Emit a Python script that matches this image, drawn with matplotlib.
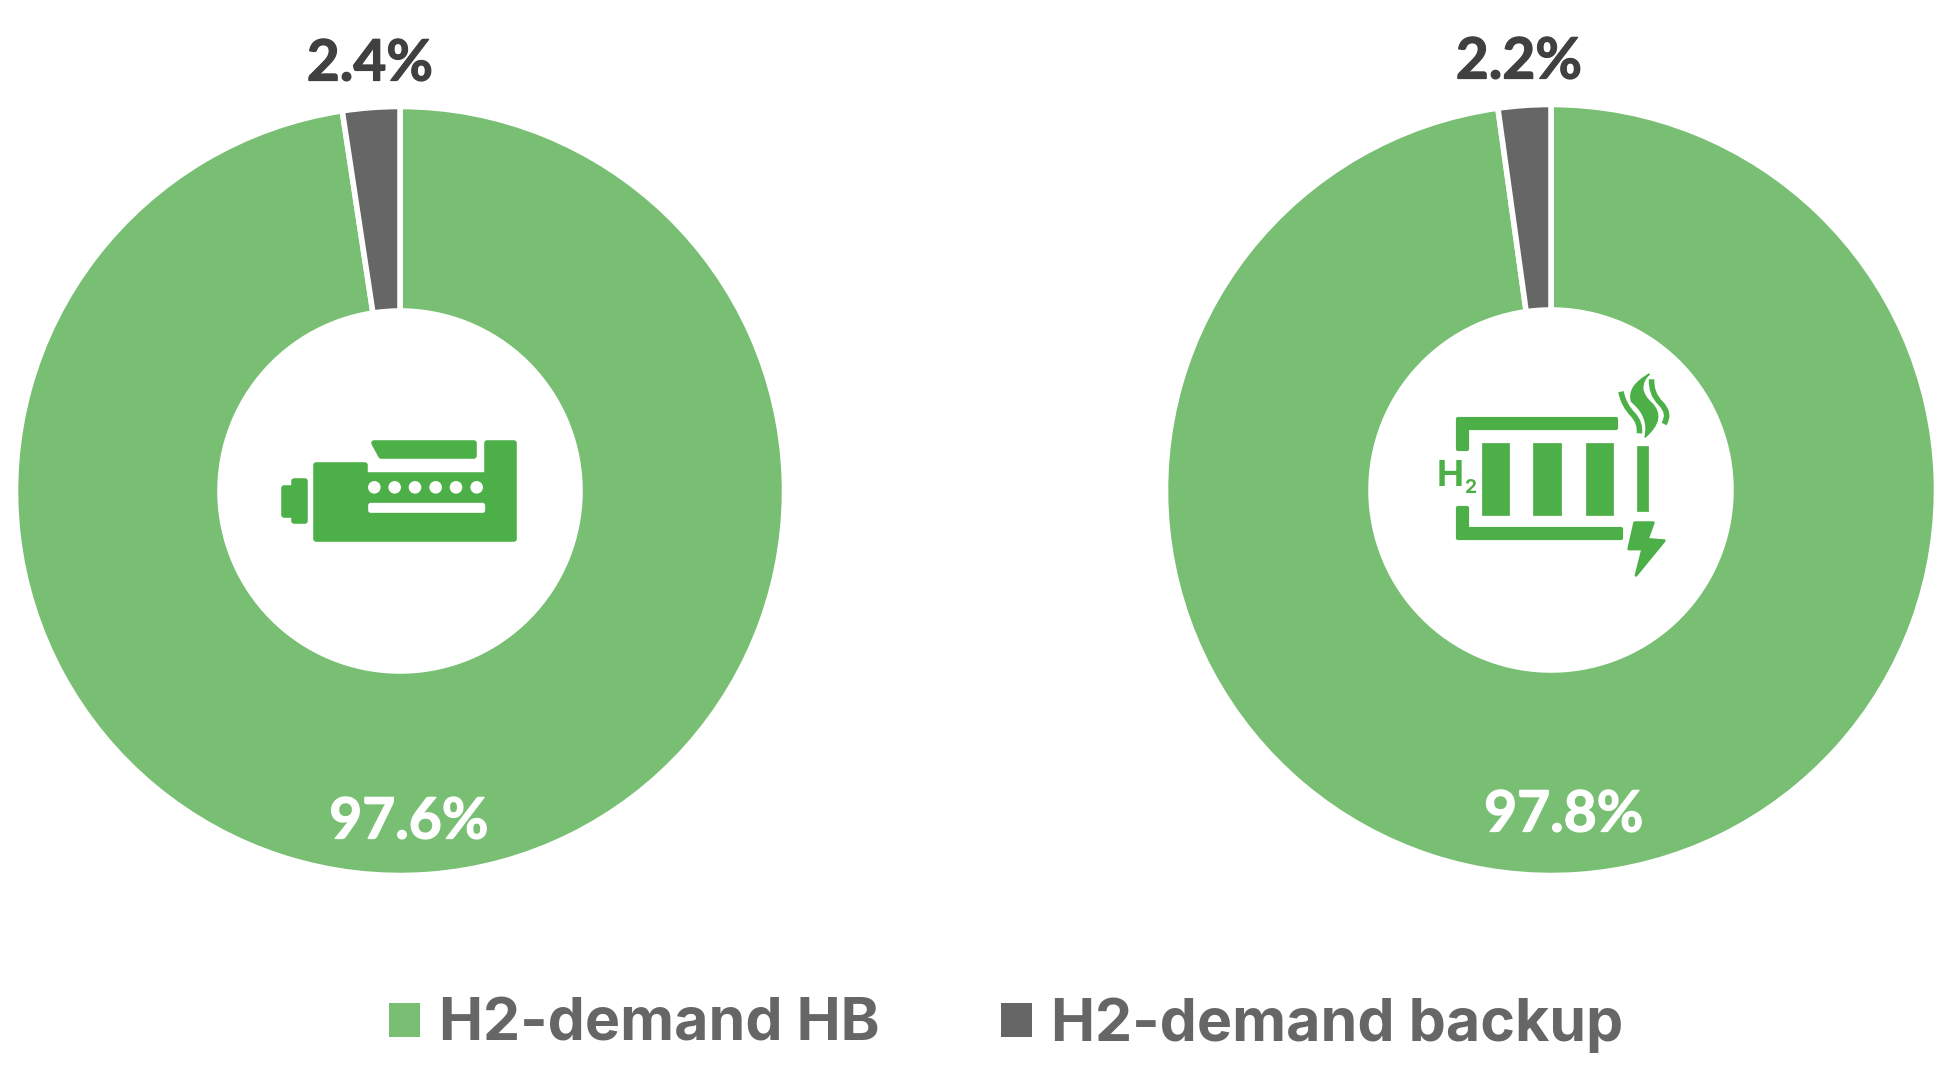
import matplotlib
matplotlib.use('Agg')
import matplotlib.pyplot as plt
import matplotlib.patheffects as pe
from matplotlib.patches import Polygon, Circle, FancyBboxPatch, Patch, PathPatch
from matplotlib.path import Path

# data
labels = ['H2-demand HB', 'H2-demand backup']
shares_engine = [97.6, 2.4]
shares_fuelcell = [97.8, 2.2]

green = '#78BF73'
grey = '#666666'
icon_green = '#4CAF47'
dark = '#404040'

plt.rcParams['font.family'] = ['Inter', 'Open Sans', 'DejaVu Sans']

W, H = 1945, 1069
fig = plt.figure(figsize=(W / 100, H / 100), dpi=100)


def donut(cx, cy, R, r, values):
    ax = fig.add_axes([(cx - R) / W, 1 - (cy + R) / H, 2 * R / W, 2 * R / H])
    ax.pie(values, colors=[green, grey], startangle=90, counterclock=False, radius=1,
           wedgeprops=dict(width=1 - r / R, edgecolor='white', linewidth=4))
    ax.set_xlim(-1, 1)
    ax.set_ylim(-1, 1)


donut(400, 491, 384.5, 180, shares_engine)
donut(1551, 490, 385.5, 180, shares_fuelcell)

# overlay in pixels for the labels and the two icons
ov = fig.add_axes([0, 0, 1, 1], zorder=5)
ov.set_xlim(0, W)
ov.set_ylim(H, 0)
ov.axis('off')


def pct(x, y, v, c):
    ov.text(x, y, f'{v}%', ha='center', va='center', fontsize=41, fontweight='bold', color=c,
            family=['Lato', 'DejaVu Sans'], path_effects=[pe.withStroke(linewidth=0.9, foreground=c)])


pct(370, 64, shares_engine[1], dark)
pct(409, 822, shares_engine[0], 'white')
pct(1519, 62, shares_fuelcell[1], dark)
pct(1564, 815, shares_fuelcell[0], 'white')


# engine icon, points taken from a 3x crop with origin (230, 400)
def e(pts):
    return [(230 + x / 3, 400 + y / 3) for x, y in pts]


def shape(pts, c=icon_green, lw=1.5):
    ov.add_patch(Polygon(pts, closed=True, fc=c, ec=c, lw=lw, joinstyle='round'))


shape(e([(258, 196), (406, 196), (406, 224), (771, 224), (771, 128), (852, 128), (852, 418), (258, 418)]), lw=4)
shape(e([(431, 128), (732, 128), (732, 168), (454, 168)]), lw=4)
shape(e([(162, 264), (191, 264), (191, 244), (224, 244), (224, 362), (191, 362), (191, 346), (162, 346)]), lw=4)
for zx in [433, 494, 555, 617, 678, 740]:
    (px, py), = e([(zx, 262)])
    ov.add_patch(Circle((px, py), 6.3, fc='white', ec='none'))
(sx, sy), = e([(422, 316)])
ov.add_patch(FancyBboxPatch((sx, sy), 112, 5, boxstyle='round,pad=2.5', fc='white', ec='none'))


# fuel cell icon, crop origin (1400, 350)
def b(pts):
    return [(1400 + x / 3, 350 + y / 3) for x, y in pts]


shape(b([(175, 208), (649, 208), (649, 235), (201, 235), (201, 297), (175, 297)]), lw=3)
shape(b([(175, 473), (201, 473), (201, 538), (662, 538), (662, 565), (175, 565)]), lw=3)
for x0, x1, y0, y1 in [(245, 328, 280, 495), (400, 483, 280, 495), (558, 640, 280, 495), (712, 745, 287, 482)]:
    shape(b([(x0, y0), (x1, y0), (x1, y1), (x0, y1)]), lw=0.5)
shape(b([(704, 518), (760, 518), (742, 568), (793, 572), (708, 676), (728, 597), (686, 597)]), lw=2)


# smoke
def curve(pts, codes, **kw):
    ov.add_patch(PathPatch(Path(b(pts), codes), **kw))


C3 = Path.CURVE3
curve([(748, 72), (680, 110), (695, 155), (750, 200), (735, 262), (800, 205), (755, 160), (705, 115), (748, 72)],
      [Path.MOVETO, C3, C3, C3, C3, C3, C3, C3, C3], fc=icon_green, ec=icon_green, lw=1)
curve([(663, 125), (670, 165), (700, 195), (722, 220), (718, 250)], [Path.MOVETO, C3, C3, C3, C3],
      fc='none', ec=icon_green, lw=4)
curve([(755, 88), (752, 130), (782, 160), (812, 190), (792, 222)], [Path.MOVETO, C3, C3, C3, C3],
      fc='none', ec=icon_green, lw=4)
ov.text(1400 + 150 / 3, 350 + 380 / 3, 'H', ha='center', va='center', fontsize=26, fontweight='bold',
        color=icon_green)
ov.text(1400 + 212 / 3, 350 + 414 / 3, '2', ha='center', va='center', fontsize=14, fontweight='bold',
        color=icon_green)

# legend
handles = [Patch(fc=green, ec='none'), Patch(fc=grey, ec='none')]
leg = fig.legend(handles, labels, ncol=2, loc='center', bbox_to_anchor=(1006 / W, 1 - 1025 / H), frameon=False,
                 labelcolor=grey, prop=dict(size=42.5, weight='bold'),
                 handlelength=0.525, handleheight=0.525, handletextpad=0.32, columnspacing=2.06)

plt.savefig('out.png', dpi=100, facecolor='white')
